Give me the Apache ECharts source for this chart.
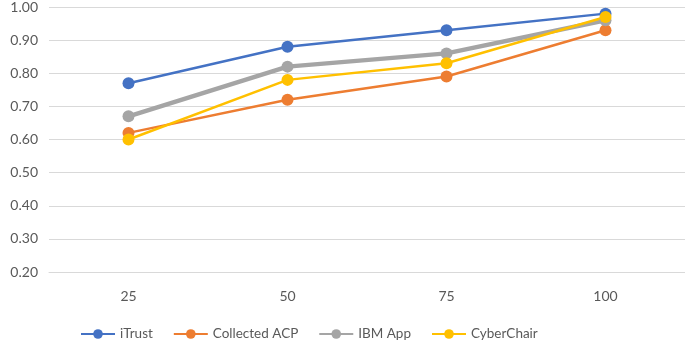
<!DOCTYPE html>
<html>
<head>
<meta charset="utf-8">
<script src="https://cdn.jsdelivr.net/npm/echarts@6/dist/echarts.min.js"></script>
<style>
  html, body { margin: 0; padding: 0; background: #fff; }
  #chart { width: 685px; height: 343px; }
</style>
</head>
<body>
<div id="chart"></div>
<script>
// data
var categories = ["25", "50", "75", "100"];
var iTrust = [0.77, 0.88, 0.93, 0.98];
var collectedACP = [0.62, 0.72, 0.79, 0.93];
var ibmApp = [0.67, 0.82, 0.86, 0.96];
var cyberChair = [0.60, 0.78, 0.83, 0.97];

var chart = echarts.init(document.getElementById("chart"));

function mkSeries(name, data, color, width) {
  return {
    name: name,
    type: "line",
    data: data,
    symbol: "circle",
    symbolSize: 12,
    showSymbol: true,
    lineStyle: { color: color, width: width },
    itemStyle: { color: color },
    emphasis: { disabled: true },
    animation: false
  };
}

var option = {
  animation: false,
  textStyle: { fontFamily: "Lato", color: "#595959" },
  grid: { left: 49, right: 0, top: 6, bottom: 71 },
  legend: {
    left: 80,
    top: 327,
    padding: 0,
    itemWidth: 34,
    itemHeight: 12,
    itemGap: 20,
    textStyle: { fontSize: 13.5, color: "#595959", fontFamily: "Lato" },
    data: ["iTrust", "Collected ACP", "IBM App", "CyberChair"]
  },
  xAxis: {
    type: "category",
    data: categories,
    boundaryGap: true,
    axisLine: { lineStyle: { color: "#d9d9d9" } },
    axisTick: { show: false },
    axisLabel: { fontSize: 14, color: "#595959", margin: 17 }
  },
  yAxis: {
    type: "value",
    min: 0.2,
    max: 1.0,
    interval: 0.1,
    axisLine: { show: false },
    axisTick: { show: false },
    splitLine: { lineStyle: { color: "#d9d9d9", width: 1 } },
    axisLabel: {
      fontSize: 14,
      color: "#595959",
      margin: 11,
      formatter: function (v) { return v.toFixed(2); }
    }
  },
  series: [
    mkSeries("iTrust", iTrust, "#4472C4", 2.5),
    mkSeries("Collected ACP", collectedACP, "#ED7D31", 2.5),
    mkSeries("IBM App", ibmApp, "#A5A5A5", 4.5),
    mkSeries("CyberChair", cyberChair, "#FFC000", 2.5)
  ]
};

chart.setOption(option);
</script>
</body>
</html>
